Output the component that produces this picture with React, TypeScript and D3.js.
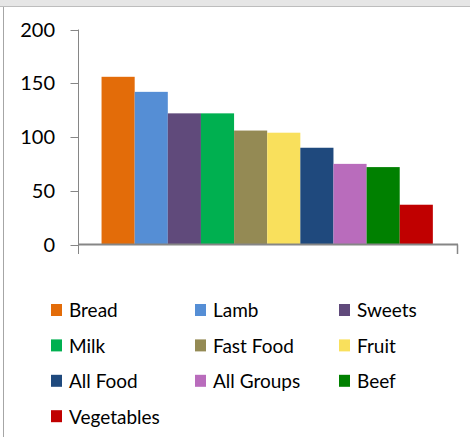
import React from "react";
import * as d3 from "d3";

const categories = ["Bread", "Lamb", "Sweets", "Milk", "Fast Food", "Fruit", "All Food", "All Groups", "Beef", "Vegetables"];
const values = [156, 142, 122, 122, 106, 104, 90, 75, 72, 37];
const colors = ["#e36c09", "#558ed5", "#604a7b", "#00b050", "#948a54", "#f9e05c", "#1f497d", "#b96cbc", "#008000", "#c00000"];
const yTicks = [0, 50, 100, 150, 200];

const W = 470;
const H = 437;
const FONT = "Lato, 'Open Sans', sans-serif";

export default function App() {
  const x0 = 78;
  const x1 = 458;
  const yBase = 244.5;
  const yTop = 29.5;
  const y = d3.scaleLinear().domain([0, 200]).range([yBase, yTop]);
  const group = d3.scaleBand<string>().domain(["g"]).range([x0, x1]).paddingInner(0).paddingOuter(0.0735);
  const gx = (group("g") as number) - 0.8;
  const xb = d3.scaleBand<string>().domain(categories).range([gx, gx + group.bandwidth()]).padding(0);

  const legendCols = [51, 195, 339];
  const legendRow0 = 304;
  const legendStep = 35.4;

  return (
    <svg width={W} height={H} style={{ position: "absolute", left: 0, top: 0, background: "#fff" }} xmlns="http://www.w3.org/2000/svg">
      <rect x={0} y={0} width={W} height={6} fill="#e6e6e6" />
      <line x1={0} x2={W} y1={6.5} y2={6.5} stroke="#bdbdbd" strokeWidth={1} />
      <line x1={3.5} x2={3.5} y1={7} y2={H} stroke="#a6a6a6" strokeWidth={1} />

      {categories.map((c, i) => (
        <rect key={c} x={xb(c)} y={y(values[i])} width={xb.bandwidth()} height={yBase - y(values[i])} fill={colors[i]} />
      ))}

      {/* y axis */}
      <line x1={x0 + 0.5} x2={x0 + 0.5} y1={yTop} y2={254} stroke="#868686" strokeWidth={1} />
      {yTicks.map((t) => (
        <g key={t}>
          <line x1={70.5} x2={x0} y1={Math.round(y(t)) + 0.5} y2={Math.round(y(t)) + 0.5} stroke="#868686" strokeWidth={1} />
          <text x={55} y={y(t)} dy="0.36em" textAnchor="end" fontFamily={FONT} fontSize={20} fill="#000">
            {t}
          </text>
        </g>
      ))}
      {/* x axis */}
      <line x1={x0} x2={x1} y1={yBase} y2={yBase} stroke="#868686" strokeWidth={2} />
      <line x1={x1 - 0.5} x2={x1 - 0.5} y1={yBase} y2={254} stroke="#868686" strokeWidth={1.5} />

      {categories.map((c, i) => {
        const col = i % 3;
        const row = Math.floor(i / 3);
        const lx = legendCols[col];
        const ly = legendRow0 + row * legendStep;
        return (
          <g key={"l" + c}>
            <rect x={lx} y={ly} width={11} height={12} fill={colors[i]} />
            <text x={lx + 18} y={ly + 6.5} dy="0.36em" fontFamily={FONT} fontSize={19} fill="#000">
              {c}
            </text>
          </g>
        );
      })}
    </svg>
  );
}
